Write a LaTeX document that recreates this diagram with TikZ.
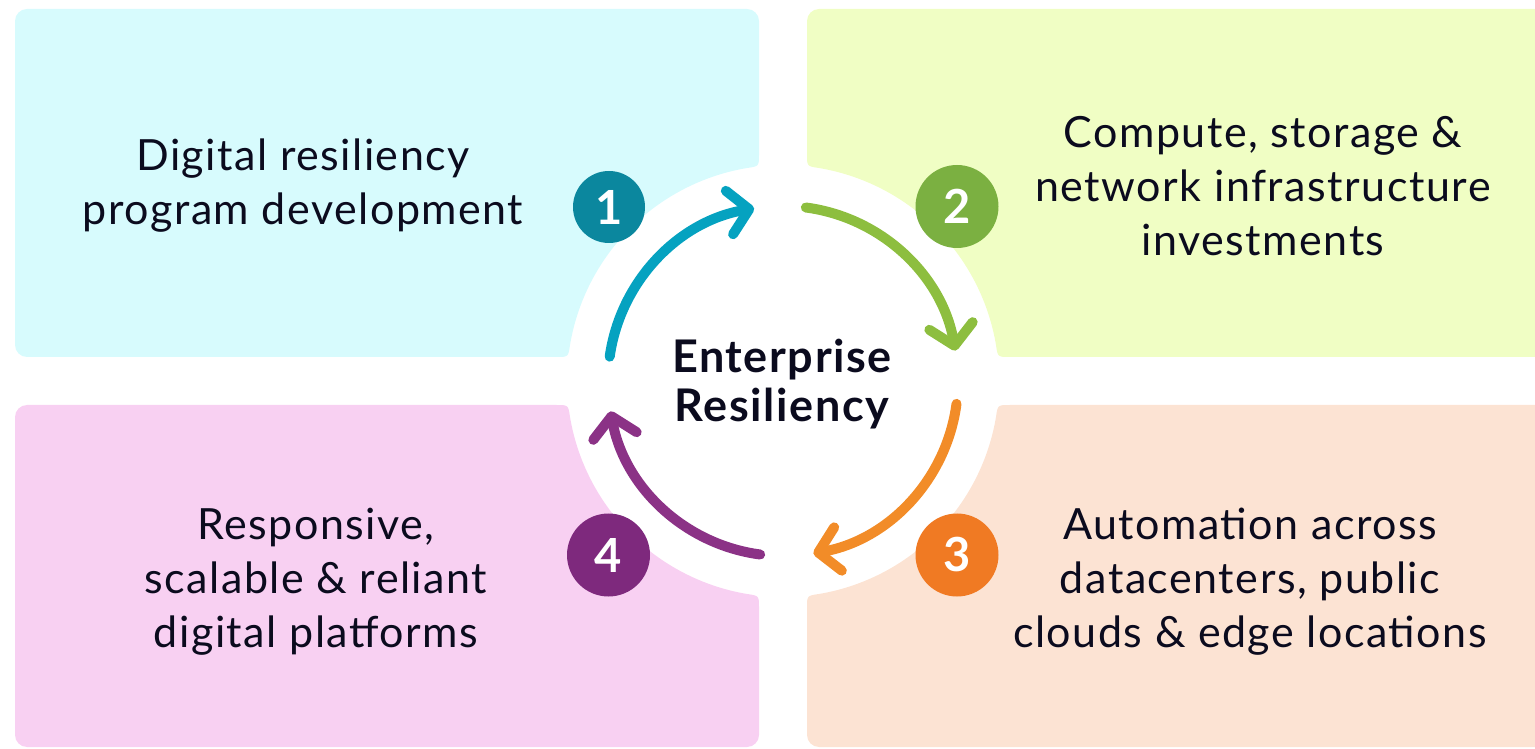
\documentclass[tikz,border=0pt]{standalone}
\usepackage{fontspec}
\setmainfont{Lato}[LetterSpace=3.5]
\usepackage{xcolor}
\usetikzlibrary{arrows.meta}
\definecolor{ink}{HTML}{0B0B1E}
\definecolor{panelA}{HTML}{D7FBFD}
\definecolor{panelB}{HTML}{F0FEC4}
\definecolor{panelC}{HTML}{FCE3D3}
\definecolor{panelD}{HTML}{F8D0F2}
\definecolor{numA}{HTML}{0B879E}
\definecolor{numB}{HTML}{7BB041}
\definecolor{numC}{HTML}{F07A23}
\definecolor{numD}{HTML}{7E297D}
\definecolor{arrA}{HTML}{05A2C0}
\definecolor{arrB}{HTML}{8DBE3F}
\definecolor{arrC}{HTML}{F28C28}
\definecolor{arrD}{HTML}{8B3286}

\begin{document}
\begin{tikzpicture}[x=1pt,y=1pt,
    boxtext/.style={text=ink, align=center, font=\fontsize{43}{54}\selectfont},
    stepnum/.style={circle, minimum size=83pt, inner sep=0pt, text=white, font=\bfseries\fontsize{47}{47}\selectfont},
    cyclearrow/.style={line width=10pt, line cap=round, -{Straight Barb[round,length=20pt,width=44pt]}}]
                \useasboundingbox (0,0) rectangle (1535,748);
                \clip (0,0) rectangle (1535,748);

                \coordinate (C) at (783,367);

                \fill[panelA] (556.3,391) -- (27,391) arc (270:180:12) -- (15,727) arc (180:90:12) -- (747,739) arc (90:0:12) -- (759,593.7) .. controls (759,581.7) .. (747.1,580.0) arc (99.56:170.44:216) .. controls (568.3,391) .. (556.3,391) -- cycle;
                \fill[panelB] (1009.7,391) -- (1539,391) arc (270:360:12) -- (1551,727) arc (0:90:12) -- (819,739) arc (90:180:12) -- (807,593.7) .. controls (807,581.7) .. (818.9,580.0) arc (80.44:9.56:216) .. controls (997.7,391) .. (1009.7,391) -- cycle;
                \fill[panelC] (1009.7,343) -- (1539,343) arc (90:0:12) -- (1551,13) arc (0:-90:12) -- (819,1) arc (270:180:12) -- (807,140.3) .. controls (807,152.3) .. (818.9,154.0) arc (279.56:350.44:216) .. controls (997.7,343) .. (1009.7,343) -- cycle;
                \fill[panelD] (556.3,343) -- (27,343) arc (90:180:12) -- (15,13) arc (180:270:12) -- (747,1) arc (270:360:12) -- (759,140.3) .. controls (759,152.3) .. (747.1,154.0) arc (260.44:189.56:216) .. controls (568.3,343) .. (556.3,343) -- cycle;

                \node[boxtext] (t1) at (303,562) {Digital resiliency\\program development};
                \node[boxtext] (t2) at (1263,561.5) {Compute, storage \&\\network infrastructure\\investments};
                \node[boxtext] (t3) at (1250,166.5) {Automation across\\datacenters, public\\clouds \& edge locations};
                \node[boxtext] (t4) at (316,166.5) {Responsive,\\scalable \& reliant\\digital platforms};

                \node[text=ink, align=center, font=\bfseries\fontsize{45}{49}\selectfont] (mid) at (782,363.5) {Enterprise\\Resiliency};

                \node[stepnum, fill=numA, minimum size=72pt] (n1) at (609,541) {1};
                \node[stepnum, fill=numB] (n2) at (957,541.5) {2};
                \node[stepnum, fill=numC] (n3) at (957,193) {3};
                \node[stepnum, fill=numD] (n4) at (608.5,193) {4};

                \draw[cyclearrow, arrA] ([shift={(172:175)}]C) arc (172:99.5:175);
                \draw[cyclearrow, arrB] ([shift={(82.5:175)}]C) arc (82.5:10:175);
                \draw[cyclearrow, arrC] ([shift={(-7.5:175)}]C) arc (-7.5:-80:175);
                \draw[cyclearrow, arrD] ([shift={(-97.5:175)}]C) arc (-97.5:-170:175);
            \end{tikzpicture}
\end{document}
